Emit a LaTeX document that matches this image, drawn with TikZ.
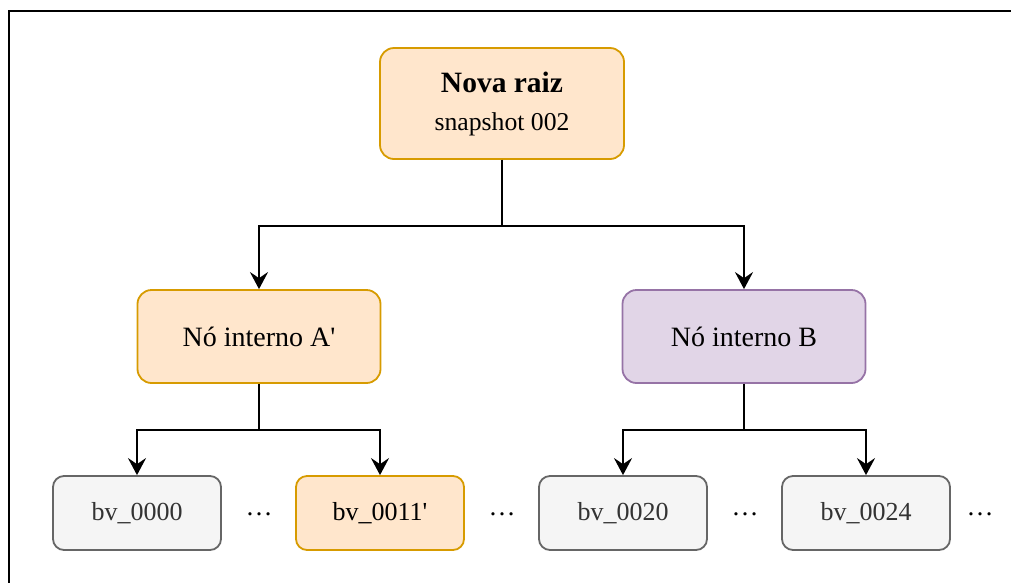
\documentclass[tikz,border=0pt]{standalone}
\usepackage{fontspec}
\setmainfont{Liberation Serif}
\usetikzlibrary{arrows.meta}
\usetikzlibrary{calc}
\definecolor{orfill}{HTML}{FFE6CC}
\definecolor{ordraw}{HTML}{D79B00}
\definecolor{pufill}{HTML}{E1D5E7}
\definecolor{pudraw}{HTML}{9673A6}
\definecolor{grfill}{HTML}{F5F5F5}
\definecolor{grdraw}{HTML}{666666}
\definecolor{grtext}{HTML}{333333}
\tikzset{box/.style={draw, line width=1.8pt, rounded corners=14pt, minimum width=243pt, minimum height=93pt, inner sep=0pt, align=center, font=\fontsize{28}{34}\selectfont}}
\tikzset{changed/.style={box, fill=orfill, draw=ordraw}}
\tikzset{kept/.style={box, fill=pufill, draw=pudraw}}
\tikzset{leaf/.style={box, fill=grfill, draw=grdraw, text=grtext, rounded corners=11pt, minimum width=168pt, minimum height=74pt, font=\fontsize{26}{30}\selectfont}}
\tikzset{gap/.style={font=\fontsize{27}{30}\selectfont}}
\tikzset{arrow/.style={-{Stealth[length=17pt,width=18pt,inset=6pt]}, line width=2pt}}
\newcommand{\outerframe}{
    \draw[line width=2.2pt] (9,11) rectangle (1040,620);
}

\begin{document}
\begin{tikzpicture}[x=1pt, y=-1pt]
        \path[use as bounding box, clip] (0,0) rectangle (1011,582);
        \outerframe

        \node[changed, minimum width=244pt, minimum height=111pt,
            font=\fontsize{25.7}{38}\selectfont] (root) at (502,103.5)
            {{\fontsize{29.5}{38}\selectfont\bfseries Nova raiz}\\snapshot 002};
        \node[changed] (na) at (259,336.5) {Nó interno A\textquotesingle};
        \node[kept] (nb) at (744,336.5) {Nó interno B};

        \node[leaf] (l0000) at (137,513) {bv\_0000};
        \node[leaf, fill=orfill, draw=ordraw, text=black] (l0011) at (380,513) {bv\_0011\textquotesingle};
        \node[leaf] (l0020) at (623,513) {bv\_0020};
        \node[leaf] (l0024) at (866,513) {bv\_0024};

        \node[gap] (gapa) at (259,514) {…};
        \node[gap] (gapb) at (502,514) {…};
        \node[gap] (gapc) at (745,514) {…};
        \node[gap] (gapd) at (980,514) {…};

        \draw[arrow] (root.south) -- ++(0,66) -| (na.north);
        \draw[arrow] (root.south) -- ++(0,66) -| (nb.north);
        \draw[arrow] (na.south) -- ++(0,46) -| (l0000.north);
        \draw[arrow] (na.south) -- ++(0,46) -| (l0011.north);
        \draw[arrow] (nb.south) -- ++(0,46) -| (l0020.north);
        \draw[arrow] (nb.south) -- ++(0,46) -| (l0024.north);
    \end{tikzpicture}
\end{document}
